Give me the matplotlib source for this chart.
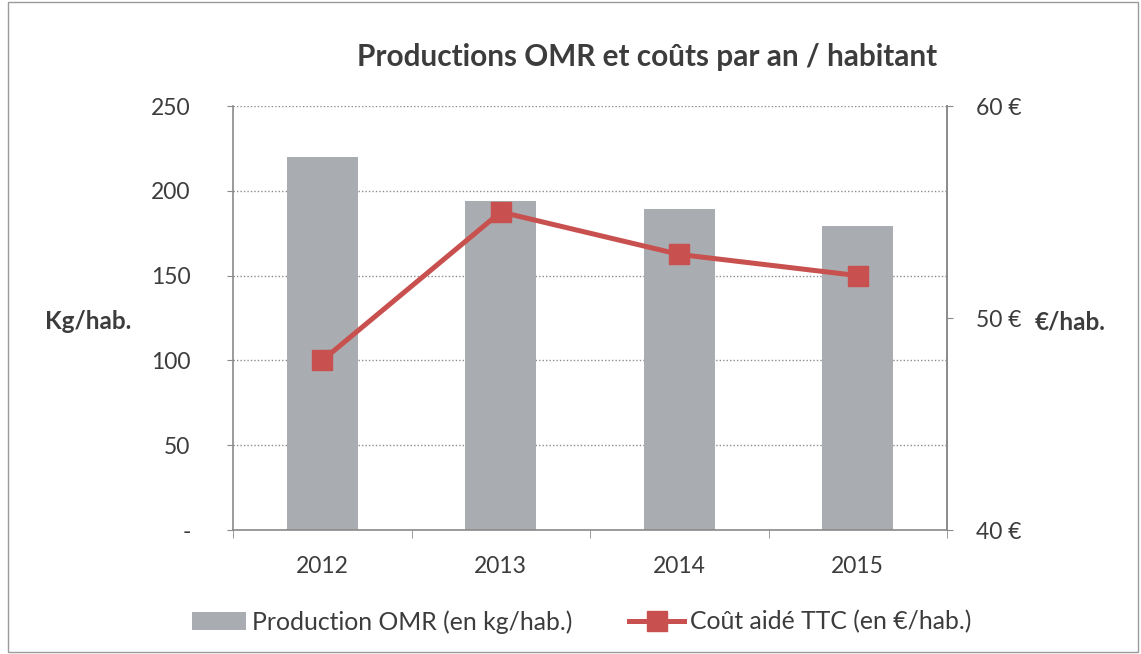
import matplotlib.pyplot as plt
from matplotlib.patches import Rectangle

# data
years = ['2012', '2013', '2014', '2015']
production_kg = [220, 194, 189, 179]
cout_eur = [48, 55, 53, 52]

plt.rcParams['font.family'] = ['Lato', 'DejaVu Sans']
txt = '#3c3c3c'

fig = plt.figure(figsize=(11.41, 6.54), dpi=100)
ax = fig.add_axes([0.2042, 0.1896, 0.6258, 0.6483])

x = range(len(years))
bars = ax.bar(x, production_kg, width=0.40, color='#A9ACB0', zorder=2,
              label='Production OMR (en kg/hab.)')
ax.set_xlim(-0.5, len(years) - 0.5)
ax.set_ylim(0, 250)
ax.set_yticks([0, 50, 100, 150, 200, 250])
ax.set_yticklabels(['-', '50', '100', '150', '200', '250'])
ax.set_xticks(list(x))
ax.set_xticklabels(years)
ax.set_xticks([i + 0.5 for i in range(-1, len(years))], minor=True)
ax.tick_params(axis='x', which='major', length=0, pad=19, labelsize=16.5, colors=txt)
ax.tick_params(axis='x', which='minor', length=6, color='#8a8a8a', direction='out')
ax.tick_params(axis='y', length=4.5, color='#8a8a8a', labelsize=16.5, colors=txt, pad=26)
ax.yaxis.grid(True, linestyle=(0, (1, 1.5)), color='#8c8c8c', linewidth=1)
ax.set_axisbelow(True)
for s in ['left', 'bottom', 'right']:
    ax.spines[s].set_color('#8a8a8a')
    ax.spines[s].set_linewidth(1.2)
ax.spines['top'].set_visible(False)

ax2 = ax.twinx()
line, = ax2.plot(x, cout_eur, color='#C8504E', linewidth=3.6, marker='s',
                 markersize=14, zorder=3, label='Coût aidé TTC (en €/hab.)')
ax2.set_ylim(40, 60)
ax2.set_yticks([40, 50, 60])
ax2.set_yticklabels(['40 €', '50 €', '60 €'])
ax2.tick_params(axis='y', length=4.5, color='#8a8a8a', labelsize=16.5, colors=txt, pad=16)
for s in ['left', 'bottom', 'top']:
    ax2.spines[s].set_visible(False)
ax2.spines['right'].set_color('#8a8a8a')
ax2.spines['right'].set_linewidth(1.2)

fig.text(0.5675, 0.913, 'Productions OMR et coûts par an / habitant', ha='center',
         va='center', fontsize=21.4, fontweight='bold', color=txt)
fig.text(0.077, 0.508, 'Kg/hab.', ha='center', va='center', fontsize=17.5,
         fontweight='bold', color=txt)
fig.text(0.938, 0.508, '€/hab.', ha='center', va='center', fontsize=17.5,
         fontweight='bold', color=txt)

fig.legend(handles=[bars, line], loc='center', bbox_to_anchor=(0.5097, 0.049),
           ncol=2, frameon=False, fontsize=17.8, handlelength=2.2,
           columnspacing=2.3, handletextpad=0.25, labelcolor=txt)

fig.patches.append(Rectangle((0.007, 0.003), 0.99, 0.994, transform=fig.transFigure,
                             fill=False, edgecolor='#9a9a9a', linewidth=1))

fig.savefig('out.png', dpi=100)
